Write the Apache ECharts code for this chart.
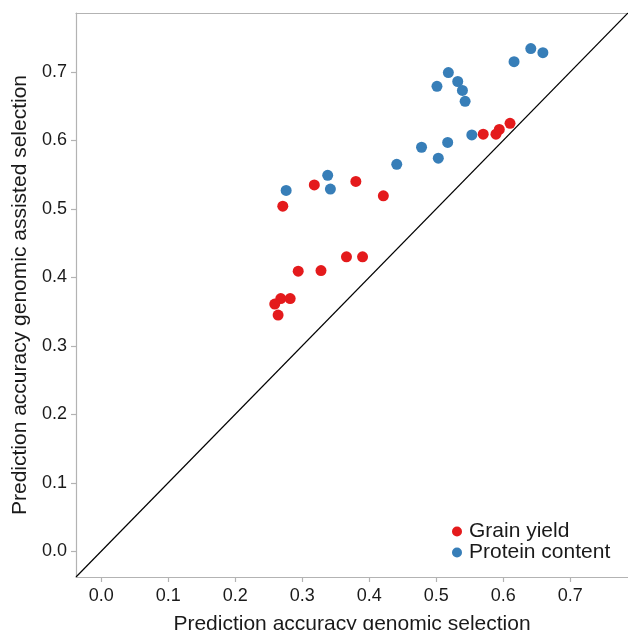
<!DOCTYPE html>
<html>
<head>
<meta charset="utf-8">
<script src="https://cdn.jsdelivr.net/npm/echarts@6/dist/echarts.min.js"></script>
<style>html,body{margin:0;padding:0;background:#fff}#c{width:628px;height:630px}</style>
</head>
<body>
<div id="c"></div>
<script>
// Axis range and ticks
const axisMin = -0.0375;
const axisMax = 0.786;
const tickValues = [0.0, 0.1, 0.2, 0.3, 0.4, 0.5, 0.6, 0.7];

// Grain yield: [genomic selection, genomic assisted selection]
const grainGS  = [0.271, 0.318, 0.380, 0.421, 0.570, 0.589, 0.594, 0.610, 0.366, 0.390, 0.294, 0.328, 0.268, 0.282, 0.259, 0.264];
const grainGAS = [0.504, 0.535, 0.540, 0.519, 0.609, 0.609, 0.616, 0.625, 0.430, 0.430, 0.409, 0.410, 0.369, 0.369, 0.361, 0.345];

// Protein content
const protGS  = [0.276, 0.338, 0.342, 0.441, 0.478, 0.503, 0.517, 0.553, 0.501, 0.518, 0.532, 0.539, 0.543, 0.616, 0.641, 0.659];
const protGAS = [0.527, 0.549, 0.529, 0.565, 0.590, 0.574, 0.597, 0.608, 0.679, 0.699, 0.686, 0.673, 0.657, 0.715, 0.734, 0.728];

const seriesNames = ['Grain yield', 'Protein content'];
const xTitle = 'Prediction accuracy genomic selection';
const yTitle = 'Prediction accuracy genomic assisted selection';

const zip = (a, b) => a.map((v, i) => [v, b[i]]);
const font = 'Liberation Sans, Arial, sans-serif';
const axisGrey = '#b3b3b3';
const textCol = '#1a1a1a';

function mainAxis(name, gap, labelMargin) {
  return {
    type: 'value', min: axisMin, max: axisMax,
    name: name, nameLocation: 'middle', nameGap: gap,
    nameTextStyle: {fontSize: 21, color: textCol, fontFamily: font},
    axisLine: {show: true, onZero: false, lineStyle: {color: axisGrey, width: 1.2}},
    axisTick: {show: true, length: 5, customValues: tickValues, lineStyle: {color: axisGrey, width: 1.2}},
    axisLabel: {fontSize: 18, color: textCol, fontFamily: font, margin: labelMargin,
      customValues: tickValues, formatter: v => v.toFixed(1)},
    splitLine: {show: false}
  };
}

const chart = echarts.init(document.getElementById('c'), null, {renderer: 'canvas'});
chart.setOption({
  animation: false,
  backgroundColor: '#fff',
  grid: {left: 76, right: 0, top: 13, bottom: 53, containLabel: false, outerBoundsMode: 'none'},
  legend: {
    orient: 'vertical',
    left: 447, top: 516,
    itemWidth: 10, itemHeight: 10, itemGap: 0,
    icon: 'circle',
    textStyle: {fontSize: 21, lineHeight: 21, color: textCol, fontFamily: font, padding: [0, 0, 0, 2]},
    data: seriesNames
  },
  xAxis: [mainAxis(xTitle, 37, 10), {
    type: 'value', position: 'top', min: axisMin, max: axisMax,
    axisLine: {show: true, onZero: false, lineStyle: {color: axisGrey, width: 1.2}},
    axisTick: {show: false}, axisLabel: {show: false}, splitLine: {show: false}
  }],
  yAxis: mainAxis(yTitle, 42, 9),
  series: [
    {
      type: 'line', data: [[axisMin, axisMin], [axisMax, axisMax]],
      symbol: 'none', silent: true, lineStyle: {color: '#000', width: 1.2}, z: 1
    },
    {
      name: seriesNames[0], type: 'scatter', data: zip(grainGS, grainGAS),
      symbolSize: 11, itemStyle: {color: '#E41A1C', opacity: 1}, z: 3
    },
    {
      name: seriesNames[1], type: 'scatter', data: zip(protGS, protGAS),
      symbolSize: 11, itemStyle: {color: '#377EB8', opacity: 1}, z: 3
    }
  ]
});
</script>
</body>
</html>
